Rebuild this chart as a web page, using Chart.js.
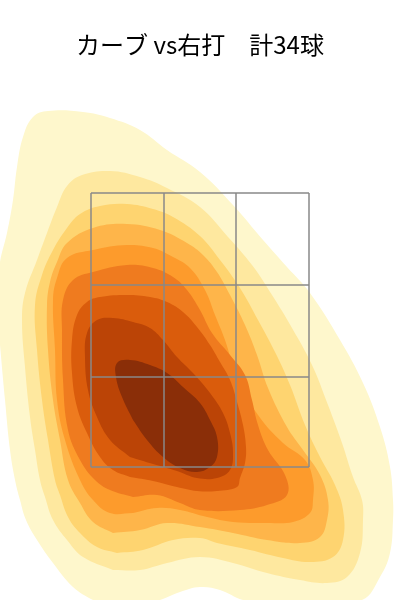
<!DOCTYPE html>
<html>
<head>
<meta charset="utf-8">
<script src="https://cdn.jsdelivr.net/npm/chart.js@4.4.1/dist/chart.umd.min.js"></script>
<style>
  html, body { margin: 0; padding: 0; background: #fff; }
  #wrap { width: 400px; height: 600px; }
</style>
</head>
<body>
<div id="wrap"><canvas id="kdeChart"></canvas></div>
<script>
// contour rings of the pitch-location density, outermost (lowest) level first
// [plate x, height]
const level1 = [[-0.80,-0.12],[-1.07,0.00],[-1.27,0.13],[-1.47,0.37],[-1.63,0.60],[-1.74,0.80],[-1.80,1.00],[-1.85,1.20],[-1.90,1.50],[-1.95,2.00],[-2.00,2.55],[-2.04,3.00],[-2.00,3.38],[-1.93,3.67],[-1.87,4.00],[-1.83,4.33],[-1.77,4.63],[-1.67,4.83],[-1.52,4.89],[-1.17,4.88],[-0.90,4.82],[-0.60,4.70],[-0.33,4.50],[0.00,4.28],[0.33,3.95],[0.63,3.60],[0.87,3.33],[1.10,3.07],[1.40,2.60],[1.63,2.17],[1.80,1.73],[1.90,1.33],[1.93,1.00],[1.93,0.80],[1.90,0.47],[1.80,0.23],[1.62,0.00],[1.00,-0.12],[0.43,0.00],[0.20,0.10],[0.00,0.13],[-0.20,0.08],[-0.40,0.00]];
const level2 = [[-0.87,0.30],[-1.17,0.43],[-1.33,0.60],[-1.47,0.80],[-1.55,1.03],[-1.60,1.20],[-1.65,1.50],[-1.70,1.83],[-1.75,2.33],[-1.78,2.80],[-1.75,3.07],[-1.63,3.40],[-1.53,3.67],[-1.43,3.93],[-1.33,4.14],[-1.18,4.25],[-0.90,4.29],[-0.60,4.23],[-0.33,4.12],[0.00,3.93],[0.28,3.63],[0.52,3.35],[0.72,3.05],[0.92,2.72],[1.12,2.35],[1.28,1.95],[1.42,1.57],[1.53,1.23],[1.62,1.00],[1.63,0.80],[1.60,0.47],[1.47,0.23],[1.27,0.17],[1.00,0.20],[0.67,0.27],[0.33,0.37],[0.00,0.43],[-0.33,0.37],[-0.60,0.30]];
const level3 = [[-0.83,0.47],[-1.03,0.53],[-1.20,0.67],[-1.32,0.83],[-1.40,1.05],[-1.45,1.20],[-1.52,1.60],[-1.58,2.00],[-1.63,2.50],[-1.65,2.95],[-1.58,3.25],[-1.47,3.50],[-1.33,3.72],[-1.20,3.86],[-1.00,3.94],[-0.73,3.96],[-0.47,3.91],[-0.27,3.83],[0.00,3.64],[0.20,3.40],[0.40,3.12],[0.58,2.80],[0.75,2.48],[0.90,2.15],[1.05,1.75],[1.20,1.43],[1.35,1.15],[1.43,0.90],[1.43,0.60],[1.33,0.43],[1.10,0.38],[0.83,0.42],[0.50,0.50],[0.17,0.57],[0.00,0.62],[-0.27,0.60],[-0.57,0.50]];
const level4 = [[-0.87,0.67],[-1.07,0.78],[-1.20,0.97],[-1.32,1.20],[-1.40,1.60],[-1.47,2.00],[-1.52,2.50],[-1.53,2.95],[-1.50,3.18],[-1.43,3.38],[-1.33,3.57],[-1.07,3.72],[-0.73,3.76],[-0.40,3.70],[-0.13,3.57],[0.03,3.45],[0.17,3.28],[0.30,3.05],[0.45,2.75],[0.57,2.45],[0.68,2.12],[0.87,1.73],[1.03,1.50],[1.20,1.25],[1.28,1.00],[1.27,0.80],[1.20,0.63],[1.00,0.57],[0.67,0.60],[0.33,0.67],[0.00,0.73],[-0.33,0.77],[-0.60,0.70]];
const level5 = [[-0.67,0.87],[-0.90,0.87],[-1.07,1.00],[-1.20,1.20],[-1.35,1.60],[-1.43,2.00],[-1.45,2.50],[-1.47,3.00],[-1.43,3.22],[-1.33,3.42],[-1.07,3.50],[-0.73,3.55],[-0.47,3.52],[-0.27,3.43],[-0.10,3.32],[0.05,3.10],[0.15,2.85],[0.25,2.60],[0.37,2.23],[0.58,1.85],[0.83,1.57],[1.05,1.40],[1.13,1.20],[1.13,1.00],[1.10,0.87],[0.93,0.78],[0.67,0.77],[0.33,0.78],[0.07,0.83],[-0.20,0.90],[-0.43,0.92]];
const level6 = [[-0.67,1.03],[-0.90,1.10],[-1.05,1.20],[-1.20,1.40],[-1.32,1.70],[-1.37,2.20],[-1.38,2.70],[-1.37,3.00],[-1.27,3.20],[-1.07,3.28],[-0.73,3.35],[-0.47,3.32],[-0.27,3.23],[-0.13,3.10],[0.00,2.90],[0.12,2.67],[0.30,2.45],[0.45,2.25],[0.52,2.00],[0.58,1.75],[0.68,1.50],[0.85,1.25],[0.87,1.05],[0.67,0.95],[0.40,0.90],[0.00,0.90],[-0.20,0.97],[-0.43,1.05]];
const level7 = [[-0.70,1.23],[-0.87,1.30],[-1.00,1.43],[-1.13,1.67],[-1.23,1.93],[-1.28,2.27],[-1.28,2.60],[-1.23,2.85],[-1.13,2.98],[-1.00,3.03],[-0.73,3.05],[-0.50,3.03],[-0.33,2.98],[-0.17,2.88],[-0.03,2.73],[0.10,2.55],[0.20,2.38],[0.30,2.20],[0.37,1.98],[0.43,1.75],[0.46,1.53],[0.45,1.37],[0.40,1.22],[0.37,1.13],[0.17,1.09],[-0.03,1.09],[-0.23,1.13],[-0.47,1.19]];
const level8 = [[-0.70,1.43],[-0.90,1.60],[-1.03,1.83],[-1.12,2.10],[-1.15,2.43],[-1.13,2.67],[-1.03,2.80],[-0.87,2.82],[-0.67,2.78],[-0.50,2.72],[-0.37,2.60],[-0.23,2.43],[-0.07,2.27],[0.10,2.07],[0.23,1.87],[0.30,1.67],[0.33,1.47],[0.30,1.30],[0.17,1.22],[-0.03,1.22],[-0.23,1.29],[-0.47,1.36]];
const level9 = [[-0.67,1.80],[-0.78,2.03],[-0.84,2.23],[-0.83,2.37],[-0.70,2.40],[-0.50,2.35],[-0.33,2.27],[-0.17,2.13],[0.00,1.97],[0.10,1.80],[0.17,1.63],[0.17,1.43],[0.10,1.33],[-0.03,1.28],[-0.20,1.32],[-0.37,1.43],[-0.53,1.60]];

const levels = [level1, level2, level3, level4, level5, level6, level7, level8, level9];
const levelColors = ['#fef7cc', '#fee89f', '#fed470', '#feb54a', '#fd9b2c', '#ef7b1f', '#da5c0c', '#bb4406', '#8a2e08'];

// strike zone, 3x3 grid
const zoneX = [-1.09, -0.36, 0.36, 1.09];
const zoneY = [1.33, 2.23, 3.15, 4.07];

const titleText = 'カーブ vs右打　計34球';

const datasets = [];

levels.forEach((ring, i) => {
    const pts = ring.map(p => ({x: p[0], y: p[1]}));
    pts.push({x: ring[0][0], y: ring[0][1]});
    datasets.push({
        data: pts,
        backgroundColor: levelColors[i],
        borderColor: levelColors[i],
        borderWidth: 0,
        fill: 'shape',
        tension: 0.4,
        pointRadius: 0,
        order: levels.length - i
    });
});

const zoneLine = (pts) => ({
    data: pts,
    borderColor: '#888888',
    borderWidth: 1.5,
    fill: false,
    tension: 0,
    pointRadius: 0,
    order: 0
});

zoneX.forEach(x => {
    datasets.push(zoneLine([{x: x, y: zoneY[0]}, {x: x, y: zoneY[zoneY.length - 1]}]));
});
zoneY.forEach(y => {
    datasets.push(zoneLine([{x: zoneX[0], y: y}, {x: zoneX[zoneX.length - 1], y: y}]));
});

const ctx = document.getElementById('kdeChart').getContext('2d');
new Chart(ctx, {
    type: 'line',
    data: { datasets: datasets },
    options: {
        responsive: true,
        maintainAspectRatio: false,
        animation: false,
        devicePixelRatio: 1,
        layout: { padding: 0 },
        events: [],
        scales: {
            x: { type: 'linear', min: -2, max: 2, display: false },
            y: { type: 'linear', min: 0, max: 5.2, display: false }
        },
        plugins: {
            legend: { display: false },
            tooltip: { enabled: false },
            title: {
                display: true,
                text: titleText,
                color: '#000',
                font: { family: '"Noto Sans CJK JP", "Noto Sans", sans-serif', size: 24, weight: 'normal', lineHeight: 1.2 },
                padding: { top: 30, bottom: 21.2 }
            }
        }
    }
});
</script>
</body>
</html>
